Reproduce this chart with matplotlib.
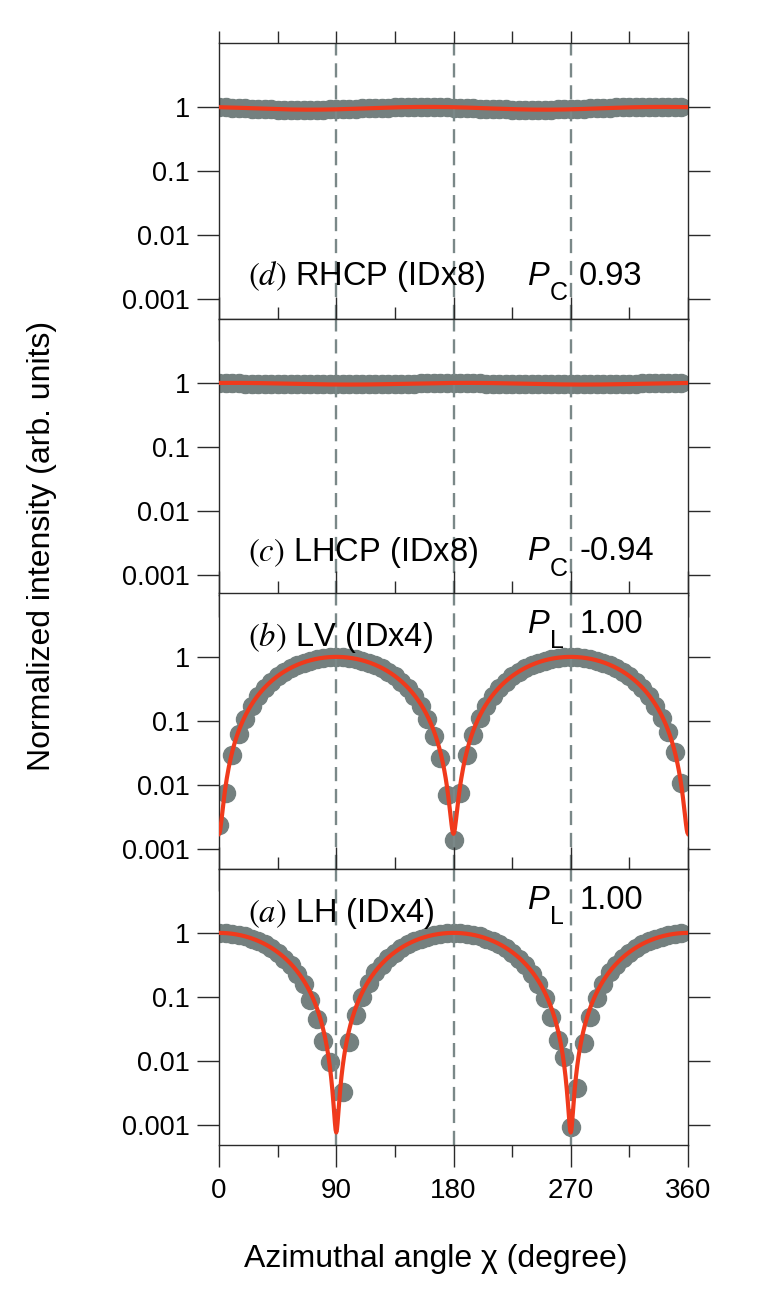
import numpy as np
import matplotlib.pyplot as plt
from matplotlib.ticker import FixedLocator, NullLocator

plt.rcParams['font.family'] = ['Liberation Sans', 'DejaVu Sans']
plt.rcParams['mathtext.fontset'] = 'stix'

# azimuthal angles of the measured points (degree)
chi = list(range(0, 360, 5))

lh = [1.00, 0.99, 0.97, 0.93, 0.88, 0.815, 0.74, 0.66, 0.57, 0.48,
      0.39, 0.31, 0.23, 0.16, 0.09, 0.045, 0.02, 0.0095, np.nan, 0.0032,
      0.0196, 0.051, 0.099, 0.165, 0.24, 0.32, 0.40, 0.49, 0.58, 0.66,
      0.74, 0.81, 0.87, 0.925, 0.965, 0.99, 1.00, 0.99, 0.97, 0.93,
      0.88, 0.815, 0.74, 0.66, 0.57, 0.48, 0.39, 0.31, 0.23, 0.16,
      0.095, 0.048, 0.021, 0.0114, 0.0009, 0.0037, 0.019, 0.048, 0.095, 0.16,
      0.24, 0.32, 0.40, 0.49, 0.58, 0.66, 0.74, 0.81, 0.87, 0.925,
      0.965, 0.99]
lv = [0.0023, 0.0074, 0.029, 0.062, 0.105, 0.17, 0.245, 0.33, 0.41, 0.50,
      0.58, 0.66, 0.74, 0.815, 0.875, 0.93, 0.965, 0.99, 1.00, 0.99,
      0.965, 0.93, 0.875, 0.815, 0.74, 0.66, 0.58, 0.50, 0.41, 0.33,
      0.245, 0.17, 0.105, 0.058, 0.026, 0.0068, 0.00135, 0.0074, 0.029, 0.059,
      0.11, 0.17, 0.245, 0.33, 0.41, 0.50, 0.58, 0.66, 0.74, 0.815,
      0.875, 0.93, 0.965, 0.99, 1.00, 0.99, 0.965, 0.93, 0.875, 0.815,
      0.74, 0.66, 0.58, 0.50, 0.41, 0.33, 0.245, 0.17, 0.11, 0.067,
      0.033, 0.0105]
lhcp = [0.99, 0.99, 0.985, 0.98, 0.975, 0.97, 0.97, 0.965, 0.96, 0.955,
        0.955, 0.95, 0.95, 0.945, 0.945, 0.945, 0.945, 0.945, 0.945, 0.945,
        0.945, 0.945, 0.95, 0.95, 0.955, 0.955, 0.96, 0.965, 0.97, 0.975,
        0.975, 0.98, 0.985, 0.985, 0.99, 0.99, 0.99, 0.99, 0.985, 0.98,
        0.98, 0.975, 0.97, 0.965, 0.96, 0.96, 0.955, 0.95, 0.95, 0.945,
        0.945, 0.945, 0.945, 0.945, 0.945, 0.945, 0.95, 0.95, 0.955, 0.955,
        0.96, 0.965, 0.97, 0.975, 0.975, 0.98, 0.985, 0.99, 0.99, 0.995,
        0.995, 0.99]
rhcp = [0.99, 0.98, 0.97, 0.96, 0.95, 0.94, 0.93, 0.925, 0.915, 0.91,
        0.91, 0.905, 0.905, 0.90, 0.905, 0.905, 0.91, 0.915, 0.92, 0.925,
        0.93, 0.94, 0.945, 0.955, 0.96, 0.97, 0.975, 0.98, 0.985, 0.99,
        0.99, 0.995, 0.995, 0.99, 0.985, 0.98, 0.975, 0.965, 0.96, 0.95,
        0.94, 0.935, 0.925, 0.92, 0.915, 0.91, 0.905, 0.905, 0.90, 0.905,
        0.905, 0.91, 0.915, 0.92, 0.925, 0.935, 0.94, 0.95, 0.955, 0.965,
        0.97, 0.98, 0.985, 0.99, 0.995, 1.0, 1.0, 1.0, 1.0, 1.0,
        0.995, 0.99]

# fit parameters (modulation depth, angle of minimum) for the red curves
fit_lh = (0.9985, 90)
fit_lv = (0.9966, 0)
fit_lhcp = (0.03, 100)
fit_rhcp = (0.05, 70)

panels = [
    # (data, fit, label, P subscript, P value)
    (rhcp, fit_rhcp, r'$(d)$ RHCP (IDx8)', 'C', '0.93'),
    (lhcp, fit_lhcp, r'$(c)$ LHCP (IDx8)', 'C', '-0.94'),
    (lv, fit_lv, r'$(b)$ LV (IDx4)', 'L', '1.00'),
    (lh, fit_lh, r'$(a)$ LH (IDx4)', 'L', '1.00'),
]

W, H = 770, 1303
fig = plt.figure(figsize=(W / 100, H / 100), dpi=100)

left, right = 219, 688
tops = [43, 319, 593, 869]
ph = 276

grey = '#74807f'
red = '#f03a1c'
ink = '#2a2a2a'
chi_f = np.linspace(0, 360, 721)

for i, (vals, fit, label, sub, pval) in enumerate(panels):
    top = tops[i]
    ax = fig.add_axes([left / W, 1 - (top + ph) / H, (right - left) / W, ph / H])
    ax.set_yscale('log')
    ax.set_xlim(0, 360)
    ax.set_ylim(10 ** -3.32, 10)

    for xv in [90, 180, 270]:
        ax.axvline(xv, color='#7a8888', lw=1.7, dashes=(6, 3.3), zorder=2.5)

    ax.plot(chi, vals, 'o', ms=13, color=grey, mec=grey, zorder=2)
    depth, cmin = fit
    model = (1 - depth * np.cos(np.radians(2 * (chi_f - cmin)))) / (1 + depth)
    ax.plot(chi_f, model, color=red, lw=3.0, zorder=3)

    for s in ax.spines.values():
        s.set_color(ink)
        s.set_linewidth(1.0)

    ax.xaxis.set_major_locator(FixedLocator([0, 90, 180, 270, 360]))
    ax.xaxis.set_minor_locator(FixedLocator([45, 135, 225, 315]))
    ax.yaxis.set_major_locator(FixedLocator([1e-3, 1e-2, 1e-1, 1]))
    ax.yaxis.set_minor_locator(NullLocator())
    ax.set_yticklabels(['0.001', '0.01', '0.1', '1'])

    ax.tick_params(axis='y', which='major', direction='out', left=True, right=True,
                   length=16, width=1.0, color=ink, labelsize=19.5, pad=5)
    ax.tick_params(axis='x', which='major', direction='out', top=True, bottom=True,
                   length=16, width=1.0, color=ink, labelsize=20, pad=8)
    ax.tick_params(axis='x', which='minor', direction='out', top=True, bottom=True,
                   length=8.5, width=1.0, color=ink)
    if i == 0:
        # top row: short ticks on the upper frame
        for t in ax.xaxis.get_major_ticks():
            t.tick2line.set_markersize(8.5)
    if i < 3:
        ax.tick_params(axis='x', labelbottom=False)

    if i < 2:
        ty, py = 0.125, 0.125
    else:
        ty, py = 0.807, 0.855
    ax.text(0.062, ty, label, transform=ax.transAxes, fontsize=23.5, va='baseline', zorder=5)
    ax.text(0.659, py, 'P', transform=ax.transAxes, fontsize=23.5, style='italic',
            va='baseline', zorder=5)
    ax.text(0.706, py - 0.055, sub, transform=ax.transAxes, fontsize=18,
            va='baseline', zorder=5)
    ax.text(0.768, py, pval, transform=ax.transAxes, fontsize=23.5, va='baseline', zorder=5)

fig.text(42 / W, 1 - 546 / H, 'Normalized intensity (arb. units)', rotation=90,
         ha='center', va='center', fontsize=23)
fig.text(436 / W, 1 - 1259 / H, 'Azimuthal angle \u03c7 (degree)',
         ha='center', va='center', fontsize=23)

fig.savefig('out.png', dpi=100)
